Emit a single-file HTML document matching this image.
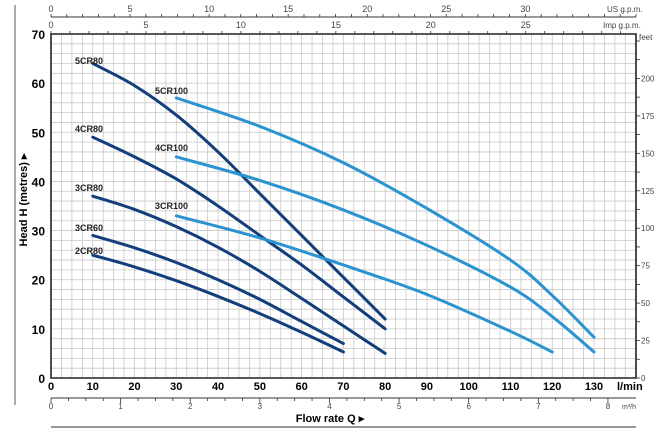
<!DOCTYPE html>
<html><head><meta charset="utf-8"><style>
body{margin:0;background:#fff;width:660px;height:430px;overflow:hidden}
svg{font-family:"Liberation Sans",sans-serif}
</style></head><body>
<svg id="c" width="660" height="430"></svg>
<script>
const seriesNames=["5CR80","4CR80","3CR80","3CR60","2CR80","5CR100","4CR100","3CR100"];
const s5CR80=[[10,64],[20,59.5],[30,53.5],[40,46],[50,37.5],[60,29],[70,20.5],[80,12]];
const s4CR80=[[10,49],[20,45],[30,40.5],[40,35],[50,29],[60,23],[70,16.5],[80,10]];
const s3CR80=[[10,37],[20,34.3],[30,30.8],[40,26.6],[50,21.7],[60,16.2],[70,10.6],[80,5]];
const s3CR60=[[10,29],[20,26.5],[30,23.5],[40,20],[50,16],[60,11.5],[70,7]];
const s2CR80=[[10,25],[20,22.6],[30,19.8],[40,16.6],[50,13.1],[60,9.3],[70,5.3]];
const s5CR100=[[30,57],[50,51.2],[70,43.8],[90,34.5],[110,24],[120,16.8],[130,8.3]];
const s4CR100=[[30,45],[50,40.2],[70,34.2],[90,27],[110,18.5],[120,12.5],[130,5.3]];
const s3CR100=[[30,33],[50,28.5],[70,23],[90,17],[110,9.5],[120,5.3]];
const xTicks=[0,10,20,30,40,50,60,70,80,90,100,110,120,130];
const yTicks=[0,10,20,30,40,50,60,70];
const usTicks=[0,5,10,15,20,25,30];
const impTicks=[0,5,10,15,20,25];
const m3Ticks=[0,1,2,3,4,5,6,7,8];
const feetTicks=[0,25,50,75,100,125,150,175,200];
const labelPos=[[75,60],[75,128],[75,187],[75,227],[75,250],[155,90],[155,147],[155,205]];
const X0=51,XS=543/130,Y0=378,YS=344/70,XR=636;
const x=v=>X0+v*XS, y=v=>Y0-v*YS;
const svg=document.getElementById('c');const NS="http://www.w3.org/2000/svg";
function el(t,a,txt){const e=document.createElementNS(NS,t);for(const k in a)e.setAttribute(k,a[k]);if(txt!==undefined)e.textContent=txt;svg.appendChild(e);return e;}
for(let v=0;v<=140;v+=2.5){const g=el('line',{x1:x(v),x2:x(v),y1:y(70),y2:y(0),stroke:'#c8c8c8','stroke-width':0.8});

}
for(let v=0;v<=70;v+=2){const g=el('line',{x1:X0,x2:XR,y1:y(v),y2:y(v),stroke:'#c8c8c8','stroke-width':0.8});

}
let f=el('path',{d:`M${X0},${y(70)}H${XR}V${Y0}H${X0}Z`,fill:'none',stroke:'#222','stroke-width':1.6});


yTicks.forEach(v=>{const t=el('text',{x:45,y:y(v)+5,'text-anchor':'end','font-size':12,'font-weight':'bold'},v);

});
xTicks.forEach(v=>{const t=el('text',{x:x(v),y:390,'text-anchor':'middle','font-size':11,'font-weight':'bold'},v);

});
let u=el('text',{x:617,y:390,'font-size':11,'font-weight':'bold'},'l/min');


el('line',{x1:X0,x2:XR,y1:398,y2:398,stroke:'#333','stroke-width':1});
for(let v=0;v<=8;v+=0.25){el('line',{x1:x(v*16.667),x2:x(v*16.667),y1:398,y2:v%1?401:403,stroke:'#333','stroke-width':0.8});}
m3Ticks.forEach(v=>{const t=el('text',{x:x(v*16.667),y:409,'text-anchor':'middle','font-size':8,fill:'#444'},v);

});
el('text',{x:622,y:409,'font-size':7,fill:'#444'},'m³/h');
el('line',{x1:X0,x2:XR,y1:17,y2:17,stroke:'#333','stroke-width':1});
for(let v=0;v<=37;v++){el('line',{x1:x(v*3.7854),x2:x(v*3.7854),y1:14,y2:17,stroke:'#333','stroke-width':0.8});}
usTicks.forEach(v=>{const t=el('text',{x:x(v*3.7854),y:12,'text-anchor':'middle','font-size':9,fill:'#444'},v);

});
el('text',{x:607,y:12,'font-size':8,fill:'#444'},'US g.p.m.');
for(let v=0;v<=30;v++){if(x(v*4.546)<=XR)el('line',{x1:x(v*4.546),x2:x(v*4.546),y1:31,y2:34,stroke:'#333','stroke-width':0.8});}
impTicks.forEach(v=>{const t=el('text',{x:x(v*4.546),y:28,'text-anchor':'middle','font-size':9,fill:'#444'},v);

});
el('text',{x:603,y:28,'font-size':8,fill:'#444'},'Imp g.p.m.');
for(let v=0;v<=225;v+=12.5){const yy=Y0-v*0.3048*YS;if(yy>=y(70))el('line',{x1:XR,x2:XR+4,y1:yy,y2:yy,stroke:'#333','stroke-width':0.8});}
feetTicks.forEach(v=>{const t=el('text',{x:XR+5,y:Y0-v*0.3048*YS+3,'font-size':8,fill:'#444'},v);

});
el('text',{x:XR+3,y:40,'font-size':8,fill:'#444'},'feet');
el('line',{x1:15,x2:15,y1:5,y2:405,stroke:'#555','stroke-width':1});
let yt=el('text',{x:0,y:0,transform:'translate(27,200) rotate(-90)','text-anchor':'middle','font-size':11,'font-weight':'bold'},'Head H (metres) ▸');


let xt=el('text',{x:330,y:422,'text-anchor':'middle','font-size':11,'font-weight':'bold'},'Flow rate Q ▸');


el('line',{x1:X0,x2:XR,y1:427,y2:427,stroke:'#777','stroke-width':1.5});
const all=[s5CR80,s4CR80,s3CR80,s3CR60,s2CR80,s5CR100,s4CR100,s3CR100];
function path(pts){let d=`M${x(pts[0][0])},${y(pts[0][1])}`;for(let i=0;i<pts.length-1;i++){const p0=pts[Math.max(0,i-1)],p1=pts[i],p2=pts[i+1],p3=pts[Math.min(pts.length-1,i+2)];
const c1=[x(p1[0])+(x(p2[0])-x(p0[0]))/6,y(p1[1])+(y(p2[1])-y(p0[1]))/6],c2=[x(p2[0])-(x(p3[0])-x(p1[0]))/6,y(p2[1])-(y(p3[1])-y(p1[1]))/6];
d+=`C${c1[0]},${c1[1]} ${c2[0]},${c2[1]} ${x(p2[0])},${y(p2[1])}`;}return d;}
all.forEach((s,i)=>{const p=el('path',{d:path(s),fill:'none',stroke:i<5?'#123f7c':'#2a93d0','stroke-width':3,'stroke-linecap':'round'});


const t=el('text',{x:labelPos[i][0],y:labelPos[i][1]+4,'font-size':9,'font-weight':'bold',fill:'#222'},seriesNames[i]);

});
</script>
</body></html>
